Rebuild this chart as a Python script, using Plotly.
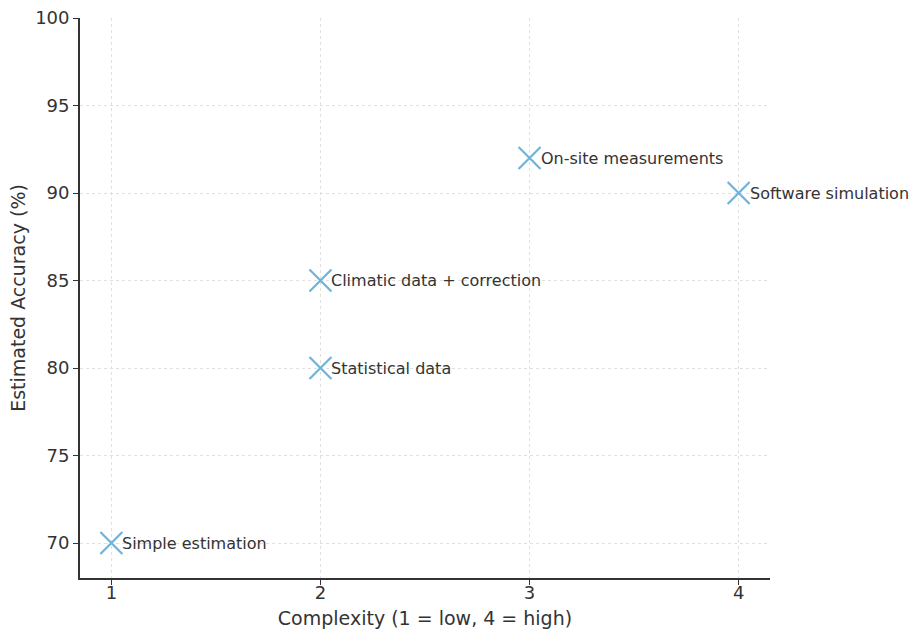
import plotly.graph_objects as go

# Methods compared by complexity and estimated accuracy
methods = [
    "Simple estimation",
    "Statistical data",
    "Climatic data + correction",
    "On-site measurements",
    "Software simulation",
]
complexity = [1, 2, 2, 3, 4]
accuracy = [70, 80, 85, 92, 90]

x_ticks = [1, 2, 3, 4]
y_ticks = [70, 75, 80, 85, 90, 95, 100]

font_family = "DejaVu Sans, Verdana, sans-serif"
ink = "#333333"

fig = go.Figure(
    go.Scatter(
        x=complexity,
        y=accuracy,
        mode="markers",
        marker=dict(
            symbol="x-thin",
            size=22,
            line=dict(width=2.2, color="#6cb4db"),
            color="#6cb4db",
        ),
        cliponaxis=False,
        showlegend=False,
    )
)

# Method names written just to the right of each marker
for name, cx, acc in zip(methods, complexity, accuracy):
    fig.add_annotation(
        x=cx, y=acc, text=name, showarrow=False,
        xanchor="left", yanchor="middle", xshift=9,
        font=dict(family=font_family, size=16, color=ink),
    )

axis_common = dict(
    showline=True,
    linecolor=ink,
    linewidth=1.8,
    ticks="outside",
    ticklen=5,
    tickwidth=1.2,
    tickcolor=ink,
    showgrid=True,
    gridcolor="#e0e0e0",
    griddash="3px,3px",
    gridwidth=1,
    zeroline=False,
    automargin=False,
    tickfont=dict(family=font_family, size=18, color=ink),
    mirror=False,
)

fig.update_xaxes(
    range=[0.85, 4.15],
    tickvals=x_ticks,
    ticklabelstandoff=-8,
    title=dict(text="Complexity (1 = low, 4 = high)",
               font=dict(family=font_family, size=19, color=ink),
               standoff=10),
    **axis_common,
)
fig.update_yaxes(
    range=[68, 100],
    tickvals=y_ticks,
    title=dict(text="Estimated Accuracy (%)",
               font=dict(family=font_family, size=19, color=ink),
               standoff=4),
    **axis_common,
)

fig.update_layout(
    width=912,
    height=630,
    margin=dict(l=80, r=142, t=18, b=52),
    plot_bgcolor="white",
    paper_bgcolor="white",
)

fig.write_html("out.html")
